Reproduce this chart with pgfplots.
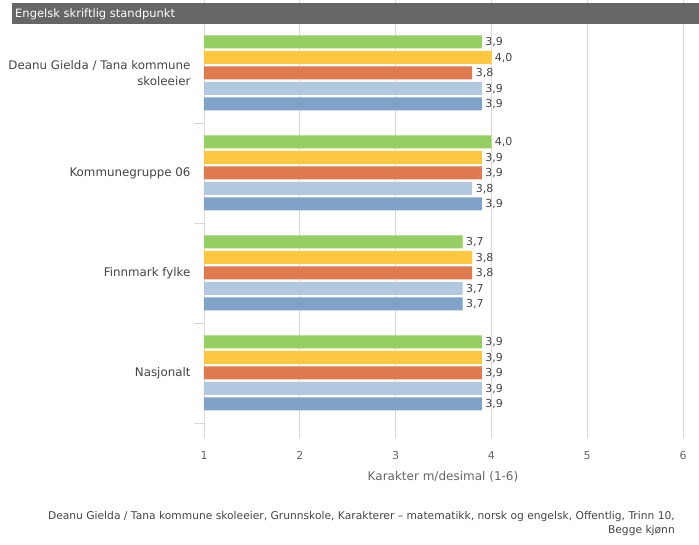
\documentclass[border=0pt]{standalone}
\usepackage{pgfplots}
\pgfplotsset{compat=1.18}
\usepackage{fontspec}
\setmainfont{DejaVu Sans}
\definecolor{cgreen}{RGB}{149,206,99}
\definecolor{cyellow}{RGB}{253,200,64}
\definecolor{corange}{RGB}{223,122,79}
\definecolor{clblue}{RGB}{177,200,222}
\definecolor{cblue}{RGB}{126,162,200}
\definecolor{titlegray}{RGB}{102,102,102}
\definecolor{gridgray}{RGB}{216,216,216}
\definecolor{labgray}{RGB}{68,68,68}
\definecolor{tickgray}{RGB}{102,102,102}
\begin{document}
\begin{tikzpicture}[x=1pt,y=1pt]
\path[use as bounding box] (0,0) rectangle (699,545);
\begin{axis}[
  at={(204pt,107pt)}, anchor=south west,
  scale only axis, width=479pt, height=438pt,
  xmin=1, xmax=6, ymin=-0.73, ymax=3.65, y dir=reverse,
  xbar, bar width=13pt,
  /pgf/number format/assume math mode=true,
  axis line style={draw=none},
  xmajorgrids, major grid style={gridgray, line width=0.8pt},
  xtick={1,2,3,4,5,6},
  xtick pos=bottom, ytick pos=left,
  major tick length=0pt,
  xticklabel style={font=\fontsize{11}{13}\selectfont, text=tickgray, yshift=-9.5pt},
  ytick={0,1,2,3},
  yticklabels={{Deanu Gielda / Tana kommune\\skoleeier},{Kommunegruppe 06},{Finnmark fylke},{Nasjonalt}},
  yticklabel style={font=\fontsize{11.85}{16}\selectfont, text=labgray, align=right, xshift=-10pt},
  extra y ticks={-0.5,0.5,1.5,2.5,3.5},
  extra y tick labels={},
  extra y tick style={major tick length=10pt, tick align=outside, tick style={draw=gridgray, line width=0.8pt}},
  point meta=x,
  nodes near coords={\pgfmathprintnumber[fixed,fixed zerofill,precision=1,use comma,assume math mode=true]{\pgfplotspointmeta}},
  nodes near coords style={font=\fontsize{11}{13}\selectfont, text=labgray, yshift=-0.5pt},
  clip=true,
]
\addplot[fill=cgreen, draw=none, bar shift=31pt] coordinates {(3.9,0) (4.0,1) (3.7,2) (3.9,3)};
\addplot[fill=cyellow, draw=none, bar shift=15.5pt] coordinates {(4.0,0) (3.9,1) (3.8,2) (3.9,3)};
\addplot[fill=corange, draw=none, bar shift=0pt] coordinates {(3.8,0) (3.9,1) (3.8,2) (3.9,3)};
\addplot[fill=clblue, draw=none, bar shift=-15.5pt] coordinates {(3.9,0) (3.8,1) (3.7,2) (3.9,3)};
\addplot[fill=cblue, draw=none, bar shift=-31pt] coordinates {(3.9,0) (3.9,1) (3.7,2) (3.9,3)};
\end{axis}
\fill[titlegray] (12,542) rectangle (699,521);
\node[anchor=west, text=white, font=\fontsize{11.5}{13}\selectfont, inner sep=0pt] at (15,531) {Engelsk skriftlig standpunkt};
\node[text=tickgray, font=\fontsize{12}{14}\selectfont] at (443,68) {Karakter m/desimal (1-6)};
\node[anchor=east, text=labgray, font=\fontsize{10.7}{12}\selectfont, inner sep=0pt] at (675,28) {Deanu Gielda / Tana kommune skoleeier, Grunnskole, Karakterer – matematikk, norsk og engelsk, Offentlig, Trinn 10,};
\node[anchor=east, text=labgray, font=\fontsize{10.7}{12}\selectfont, inner sep=0pt] at (675,14) {Begge kjønn};
\end{tikzpicture}
\end{document}
